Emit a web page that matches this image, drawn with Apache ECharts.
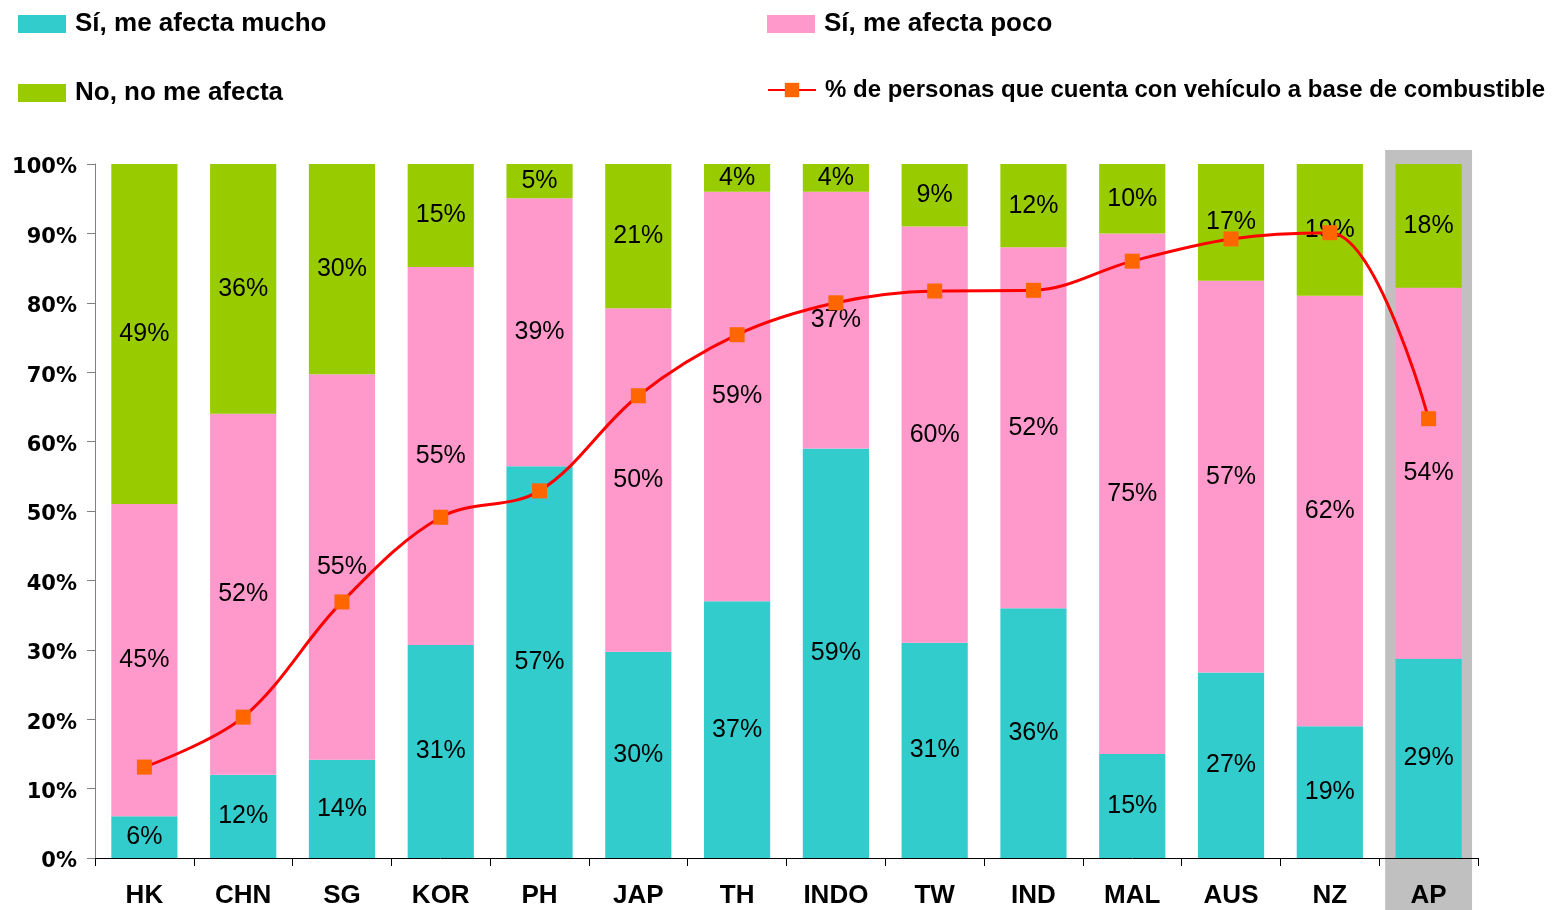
<!DOCTYPE html>
<html>
<head>
<meta charset="utf-8">
<script src="https://cdn.jsdelivr.net/npm/echarts@6/dist/echarts.min.js"></script>
<style>
html,body{margin:0;padding:0;background:#fff;}
#c{width:1555px;height:910px;}
</style>
</head>
<body>
<div id="c"></div>
<script>
const categories = ['HK','CHN','SG','KOR','PH','JAP','TH','INDO','TW','IND','MAL','AUS','NZ','AP'];
const mucho = [6,12,14,31,57,30,37,59,31,36,15,27,19,29];
const poco  = [45,52,55,55,39,50,59,37,60,52,75,57,62,54];
const noAf  = [49,36,30,15,5,21,4,4,9,12,10,17,19,18];
const vehiculo = [13.1,20.3,36.9,49.1,52.9,66.6,75.4,80.0,81.7,81.8,86.0,89.2,90.1,63.3];
const yTicks = [0,10,20,30,40,50,60,70,80,90,100];

const names = ['Sí, me afecta mucho','Sí, me afecta poco','No, no me afecta','% de personas que cuenta con vehículo a base de combustible'];
const colors = ['#33CCCC','#FF99CC','#99CC00'];

const totals = categories.map((c,i)=>mucho[i]+poco[i]+noAf[i]);
function share(arr){ return arr.map((v,i)=>({value: v/totals[i]*100, raw: v})); }

const chart = echarts.init(document.getElementById('c'));
const barLabel = {
  show:true, position:'inside', color:'#000', fontFamily:'Arial, Liberation Sans', fontSize:25,
  formatter: p => p.data.raw + '%'
};
function barSeries(name, arr, color){
  return {
    name, type:'bar', stack:'t', data: share(arr), barWidth:'67%',
    itemStyle:{color}, label: barLabel, emphasis:{disabled:true}
  };
}
const legendText = {fontFamily:'Arial, Liberation Sans', fontWeight:'bold', fontSize:26, color:'#000', padding:[0,0,0,4]};
function lg(name, left, top, extra){
  return Object.assign({data:[name], left, top, padding:0, itemWidth:48, itemHeight:18, itemGap:0,
    icon:'rect', textStyle:legendText, selectedMode:false}, extra||{});
}
const option = {
  animation:false,
  legend:[
    lg(names[0], 18, 11),
    lg(names[1], 767, 11),
    lg(names[2], 18, 80),
    lg(names[3], 767, 78, {icon:null, itemHeight:18,
      textStyle:Object.assign({}, legendText, {fontSize:24, padding:[0,0,0,4]})})
  ],
  grid:{left:95, right:77, top:164, bottom:52, containLabel:false},
  xAxis:{
    type:'category', data:categories,
    axisLine:{lineStyle:{color:'#000', width:1}},
    axisTick:{show:true, alignWithLabel:false, length:8, lineStyle:{color:'#000'}},
    axisLabel:{color:'#000', fontFamily:'Arial, Liberation Sans', fontWeight:'bold', fontSize:26, margin:25}
  },
  yAxis:{
    type:'value', min:0, max:100, interval:10,
    axisLine:{show:true, lineStyle:{color:'#808080', width:1}},
    axisTick:{show:true, length:8, lineStyle:{color:'#808080'}},
    splitLine:{show:false},
    axisLabel:{margin:18,
      rich:{t:{color:'#000', fontFamily:'DejaVu Sans', fontWeight:'bold', fontSize:21, padding:[8,0,0,0]}},
      formatter: v => yTicks.includes(v) ? '{t|' + v + '%}' : ''}
  },
  series:[
    barSeries(names[0], mucho, colors[0]),
    barSeries(names[1], poco, colors[1]),
    barSeries(names[2], noAf, colors[2]),
    {
      name:names[3], type:'line', data:vehiculo, smooth:0.35,
      lineStyle:{color:'#FF0000', width:3},
      itemStyle:{color:'#FF6600'},
      symbol:'rect', symbolSize:15, showSymbol:true,
      emphasis:{disabled:true}, z:3
    }
  ]
};
chart.setOption(option);

// gray highlight behind the AP column, placed via the axis scale
const xAP = chart.convertToPixel({xAxisIndex:0}, 'AP');
const xNZ = chart.convertToPixel({xAxisIndex:0}, 'NZ');
const band = xAP - xNZ;
const w = band * 0.88;
chart.setOption({
  graphic:[{
    type:'rect', z:-10, silent:true,
    shape:{x: xAP - w/2, y:150, width:w, height:760},
    style:{fill:'#C0C0C0'}
  }]
});
</script>
</body>
</html>
